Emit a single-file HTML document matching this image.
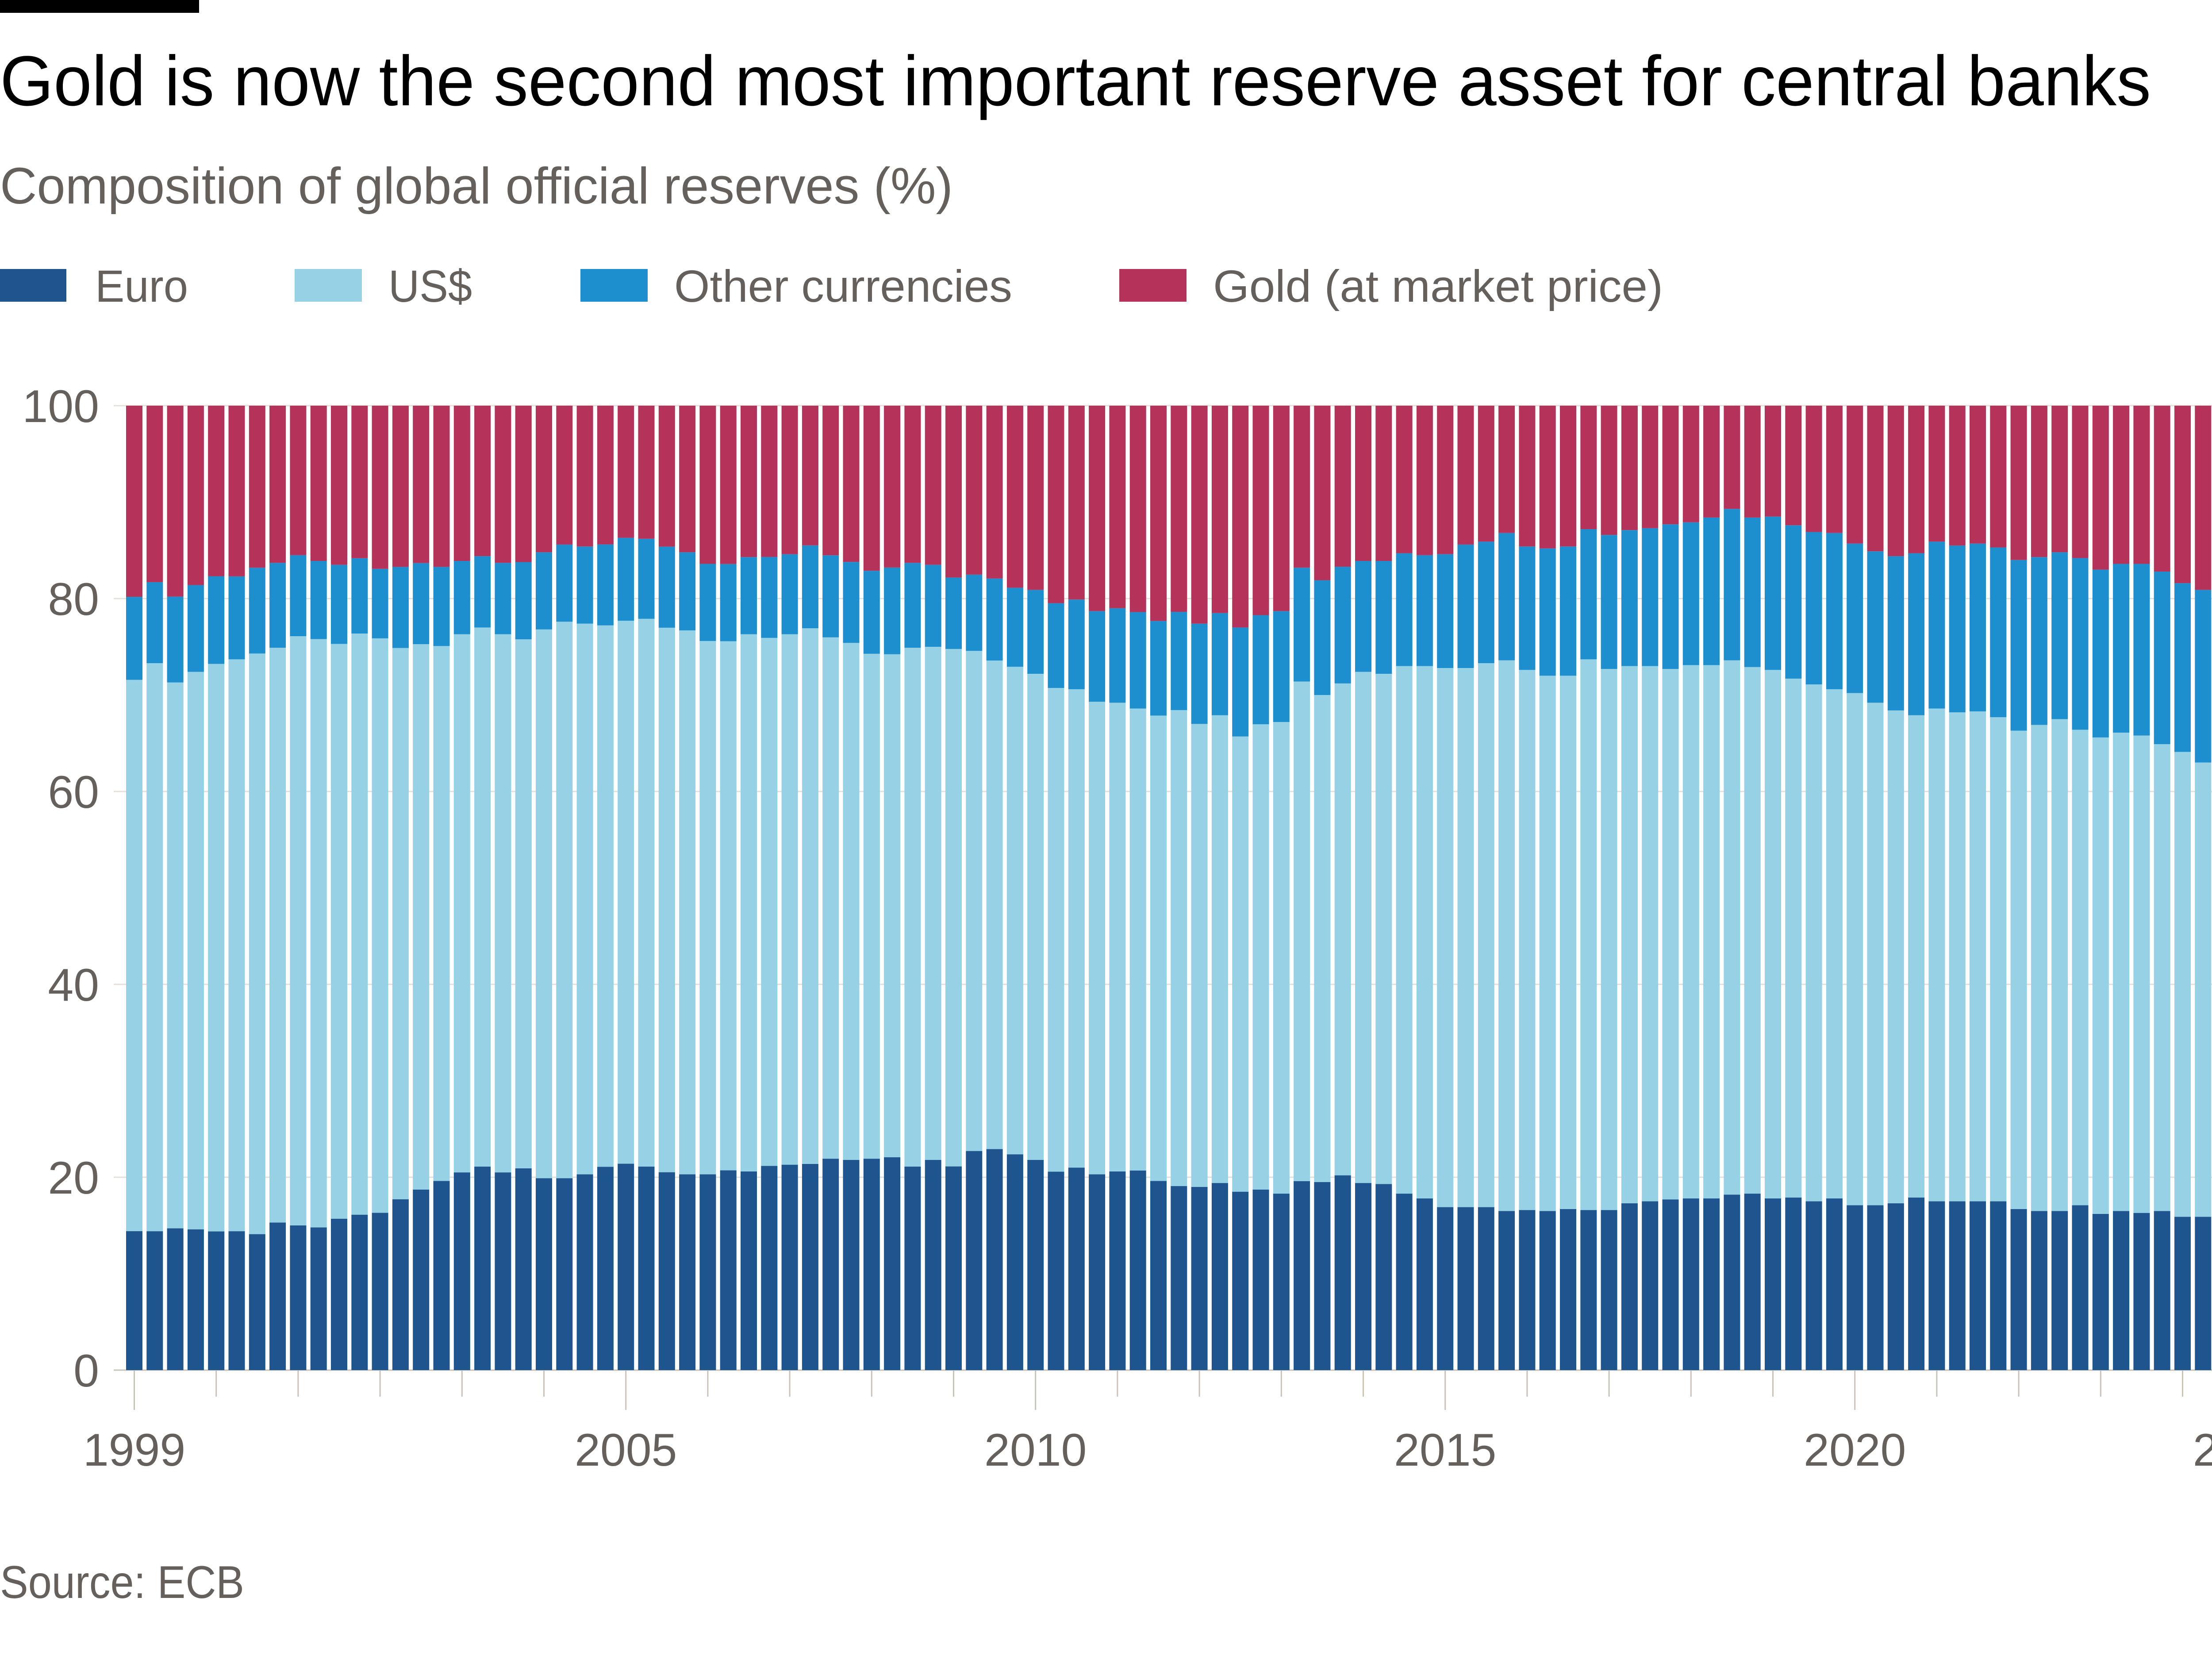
<!DOCTYPE html>
<html><head><meta charset="utf-8"><style>
html,body{margin:0;padding:0;background:#fff;}
svg{display:block;}
text{font-family:"Liberation Sans",sans-serif;}
</style></head><body>
<svg id="chart" width="5250" height="3750" viewBox="0 0 5250 3750" xmlns="http://www.w3.org/2000/svg">
<rect x="0" y="0" width="5250" height="3750" fill="#fff"/>
<rect x="0" y="0" width="450" height="29" fill="#000"/>
<text x="0" y="238" font-size="160" fill="#000" textLength="4862" lengthAdjust="spacingAndGlyphs">Gold is now the second most important reserve asset for central banks</text>
<text x="0" y="460" font-size="116" fill="#66605c" textLength="2154" lengthAdjust="spacingAndGlyphs">Composition of global official reserves (%)</text>
<g>
<rect x="0" y="608" width="150" height="74" fill="#1f558e"/>
<text x="215" y="682" font-size="102" fill="#66605c" textLength="210" lengthAdjust="spacingAndGlyphs">Euro</text>
<rect x="666" y="608" width="152" height="74" fill="#96d1e5"/>
<text x="878" y="682" font-size="102" fill="#66605c" textLength="189" lengthAdjust="spacingAndGlyphs">US$</text>
<rect x="1312" y="608" width="152" height="74" fill="#1e8fce"/>
<text x="1524" y="682" font-size="102" fill="#66605c" textLength="764" lengthAdjust="spacingAndGlyphs">Other currencies</text>
<rect x="2530" y="608" width="152" height="74" fill="#b5325b"/>
<text x="2742" y="682" font-size="102" fill="#66605c" textLength="1017" lengthAdjust="spacingAndGlyphs">Gold (at market price)</text>
</g>
<g id="grid"></g>
<g id="bars"></g>
<g id="axes"></g>
<text x="0" y="3612" font-size="104" fill="#66605c" textLength="552" lengthAdjust="spacingAndGlyphs">Source: ECB</text>
<polygon points="5213,3637 5213,3713 5137,3713" fill="#e6d9ce"/>
</svg>
<script>
const euro=[14.4,14.4,14.7,14.6,14.4,14.4,14.1,15.3,15.0,14.8,15.7,16.1,16.3,17.7,18.7,19.6,20.5,21.1,20.5,20.9,19.9,19.9,20.3,21.1,21.4,21.1,20.5,20.3,20.3,20.7,20.6,21.2,21.3,21.4,21.9,21.8,21.9,22.1,21.1,21.8,21.1,22.7,22.9,22.4,21.8,20.6,21.0,20.3,20.6,20.7,19.6,19.1,19.0,19.4,18.5,18.7,18.3,19.6,19.5,20.2,19.4,19.3,18.3,17.8,16.9,16.9,16.9,16.5,16.6,16.5,16.7,16.6,16.6,17.3,17.5,17.7,17.8,17.8,18.2,18.3,17.8,17.9,17.5,17.8,17.1,17.1,17.3,17.9,17.5,17.5,17.5,17.5,16.7,16.5,16.5,17.1,16.2,16.5,16.3,16.5,15.9,15.9,16.1,15.9];
const usd=[57.1,58.9,56.6,57.8,58.9,59.3,60.2,59.6,61.1,61.0,59.6,60.2,59.5,57.1,56.5,55.4,55.8,55.9,55.8,54.8,56.9,57.7,57.1,56.2,56.3,56.8,56.4,56.4,55.3,54.8,55.7,54.8,55.0,55.6,54.0,53.6,52.3,52.2,53.8,53.2,53.6,51.8,50.6,50.6,50.4,50.2,49.6,49.0,48.6,47.9,48.2,49.4,48.0,48.5,47.2,48.2,48.9,51.8,50.5,51.0,53.0,52.9,54.7,55.2,55.9,55.9,56.4,57.1,56.0,55.5,55.3,57.1,56.1,55.7,55.5,55.0,55.3,55.3,55.4,54.6,54.8,53.8,53.6,52.8,53.1,52.1,51.1,50.0,51.1,50.7,50.8,50.2,49.6,50.4,51.0,49.3,49.4,49.6,49.5,48.4,48.2,47.1,46.4,46.6];
const other=[8.6,8.4,8.9,9.0,9.1,8.6,8.9,8.8,8.4,8.1,8.2,7.8,7.2,8.4,8.4,8.2,7.6,7.4,7.4,8.0,8.0,8.0,8.0,8.4,8.6,8.3,8.4,8.1,8.0,8.0,8.0,8.4,8.3,8.6,8.5,8.4,8.6,9.0,8.8,8.5,7.4,7.9,8.5,8.2,8.7,8.8,9.3,9.4,9.8,10.0,9.8,10.2,10.4,10.6,11.3,11.3,11.5,11.8,11.9,12.1,11.5,11.7,11.7,11.5,11.8,12.8,12.6,13.2,12.8,13.2,13.4,13.5,13.9,14.1,14.3,15.0,14.8,15.3,15.7,15.5,15.9,15.9,15.8,16.2,15.5,15.7,16.0,16.8,17.3,17.3,17.4,17.6,17.7,17.4,17.3,17.8,17.4,17.5,17.8,17.9,17.5,17.9,18.3,18.0];
const gold=[19.8,18.3,19.8,18.6,17.7,17.7,16.8,16.3,15.5,16.1,16.5,15.8,16.9,16.7,16.3,16.7,16.1,15.6,16.3,16.2,15.2,14.4,14.6,14.4,13.7,13.8,14.6,15.2,16.4,16.4,15.7,15.7,15.4,14.5,15.5,16.2,17.1,16.8,16.3,16.5,17.8,17.5,17.9,18.9,19.1,20.5,20.1,21.3,21.0,21.4,22.3,21.4,22.6,21.5,23.0,21.7,21.3,16.8,18.1,16.7,16.1,16.1,15.3,15.5,15.4,14.4,14.1,13.2,14.6,14.8,14.6,12.8,13.4,12.9,12.7,12.3,12.1,11.6,10.7,11.6,11.5,12.4,13.1,13.2,14.3,15.1,15.6,15.3,14.1,14.5,14.3,14.7,16.0,15.7,15.2,15.8,17.0,16.4,16.4,17.2,18.4,19.1,19.2,19.5];
const yTicks=[0,20,40,60,80,100];
const yearTicks=[1999,2000,2001,2002,2003,2004,2005,2006,2007,2008,2009,2010,2011,2012,2013,2014,2015,2016,2017,2018,2019,2020,2021,2022,2023,2024];
const majorLabels=["1999","2005","2010","2015","2020","2024"];
const majorYears=[1999,2005,2010,2015,2020];

const NS="http://www.w3.org/2000/svg";
const X0=303.5, PITCH=46.3, BW=37, Y0=3097, Y100=917;
const n=euro.length;
function xScale(i){return X0+i*PITCH;}
function yScale(v){return Y0-(v/100)*(Y0-Y100);}
function mk(tag,attrs,parent){const e=document.createElementNS(NS,tag);for(const k in attrs)e.setAttribute(k,attrs[k]);parent.appendChild(e);return e;}

const grid=document.getElementById('grid');
yTicks.forEach(function(t){
  const l=mk('line',{x1:257,x2:5130,y1:yScale(t),y2:yScale(t),stroke:t===0?'#c9c2b9':'#e4dfd9','stroke-width':3},grid);
  
  
  const tx=mk('text',{x:224,y:yScale(t)+37,'font-size':104,fill:'#66605c','text-anchor':'end'},grid);
  tx.textContent=String(t);
  
  
});

const bars=document.getElementById('bars');
const series=[{d:euro,c:'#1f558e',k:'euro'},{d:usd,c:'#96d1e5',k:'usd'},{d:other,c:'#1e8fce',k:'other'},{d:gold,c:'#b5325b',k:'gold'}];
for(let i=0;i<n;i++){
  const total=euro[i]+usd[i]+other[i]+gold[i];
  let acc=0;
  series.forEach(function(s){
    const v=s.d[i]*100/total;
    const yt=yScale(acc+v), yb=yScale(acc);
    const r=mk('rect',{x:xScale(i)-BW/2,y:yt,width:BW,height:Math.max(0,yb-yt),fill:s.c},bars);
    
    
    acc+=v;
  });
}

const axes=document.getElementById('axes');
yearTicks.forEach(function(yr){
  const idx=(yr-1999)*4;
  const major=majorYears.indexOf(yr)>=0;
  const t=mk('line',{x1:xScale(idx),x2:xScale(idx),y1:Y0,y2:Y0+(major?90:60),stroke:'#c9c2b9','stroke-width':3},axes);
  
  
});
const last=mk('line',{x1:xScale(n-1),x2:xScale(n-1),y1:Y0,y2:Y0+90,stroke:'#c9c2b9','stroke-width':3},axes);


majorLabels.forEach(function(lab,j){
  const idx=j<majorYears.length?(majorYears[j]-1999)*4:n-1;
  const tx=mk('text',{x:xScale(idx),y:3313,'font-size':104,fill:'#66605c','text-anchor':'middle'},axes);
  tx.textContent=lab;
  
  
});
</script>
</body></html>
